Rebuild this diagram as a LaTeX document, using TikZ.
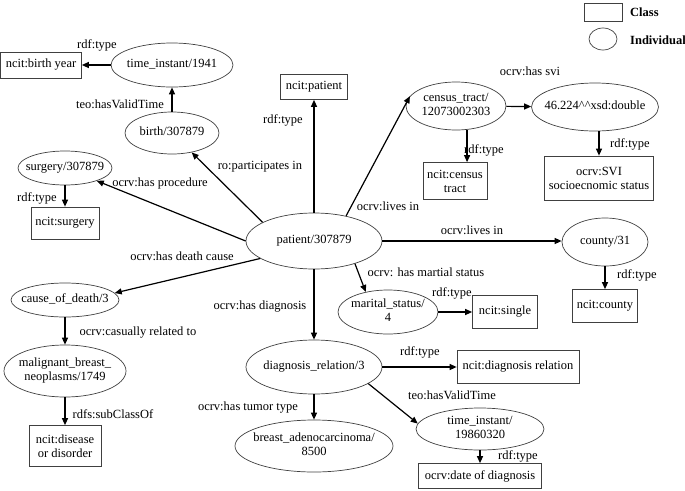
\documentclass[tikz,border=0pt]{standalone}
\usepackage{fontspec}
\setmainfont{Liberation Serif}
\usetikzlibrary{shapes.geometric,arrows.meta}
\newcommand{\zw}[1]{\makebox[0pt]{\begin{tabular}{@{}c@{}}#1\end{tabular}}}
\tikzset{
  ind/.style={ellipse, draw=black!75, line width=0.7pt, inner sep=0pt},
  cls/.style={rectangle, draw=black!75, line width=0.7pt, inner sep=0pt, align=center},
  lbl/.style={inner sep=0pt},
  arr/.style={-{Triangle[length=7pt,width=6pt]}, line width=1.2pt},
}
\begin{document}
\begin{tikzpicture}[x=1pt,y=-1pt,font=\fontsize{12.5}{14}\selectfont]
\useasboundingbox (0,0) rectangle (685,490);
% legend
\node[cls, minimum width=38, minimum height=18] (legc) at (603,12) {};
\node[lbl, anchor=west, font=\fontsize{12.5}{14}\selectfont\bfseries] (legct) at (630,12) {Class};
\node[ind, minimum width=28, minimum height=22] (legi) at (603,39) {};
\node[lbl, anchor=west, font=\fontsize{12.5}{14}\selectfont\bfseries] (legit) at (630,40) {Individual};
% nodes
\node[ind, minimum width=122, minimum height=44] (ti1941) at (172,65) {\zw{time\_instant/1941}};
\node[cls, minimum width=81, minimum height=26] (byear) at (41,65) {ncit:birth year};
\node[ind, minimum width=94, minimum height=42] (birth) at (172,133) {\zw{birth/307879}};
\node[cls, minimum width=67, minimum height=25] (npat) at (314,87) {ncit:patient};
\node[ind, minimum width=94, minimum height=34] (surg) at (65,168) {\zw{surgery/307879}};
\node[cls, minimum width=68, minimum height=32] (nsurg) at (65,223) {ncit:surgery};
\node[ind, minimum width=136, minimum height=56] (patient) at (314,241) {\zw{patient/307879}};
\node[ind, minimum width=100, minimum height=48] (census) at (456,106) {\zw{census\_tract/\\12073002303}};
\node[ind, minimum width=127, minimum height=48] (svi) at (595,107) {\zw{46.224\textasciicircum\textasciicircum xsd:double}};
\node[cls, minimum width=64, minimum height=37] (ncensus) at (455,181) {ncit:census\\tract};
\node[cls, minimum width=109, minimum height=44] (sviclass) at (599,178) {ocrv:SVI\\socioecnomic status};
\node[ind, minimum width=86, minimum height=48] (county) at (605,242) {\zw{county/31}};
\node[cls, minimum width=65, minimum height=33] (ncounty) at (605,306) {ncit:county};
\node[ind, minimum width=100, minimum height=44] (marital) at (388,312) {\zw{marital\_status/\\4}};
\node[cls, minimum width=65, minimum height=33] (single) at (505,312) {ncit:single};
\node[ind, minimum width=108, minimum height=34] (cause) at (65,300) {\zw{cause\_of\_death/3}};
\node[ind, minimum width=122, minimum height=52] (malig) at (65,371) {\zw{malignant\_breast\_\\neoplasms/1749}};
\node[cls, minimum width=72, minimum height=41] (disease) at (65,446) {ncit:disease\\or disorder};
\node[ind, minimum width=136, minimum height=54] (diag) at (314,367) {\zw{diagnosis\_relation/3}};
\node[cls, minimum width=122, minimum height=33] (ndiag) at (518,367) {ncit:diagnosis relation};
\node[ind, minimum width=128, minimum height=42] (ti1986) at (480,429) {\zw{time\_instant/\\19860320}};
\node[cls, minimum width=123, minimum height=25] (date) at (480,476) {ocrv:date of diagnosis};
\node[ind, minimum width=158, minimum height=52] (breast) at (314,446) {\zw{breast\_adenocarcinoma/\\8500}};
% labels
\node[lbl] (l1) at (97,45) {rdf:type};
\node[lbl] (l2) at (120,104) {teo:hasValidTime};
\node[lbl] (l3) at (283,120) {rdf:type};
\node[lbl] (l4) at (37,198) {rdf:type};
\node[lbl] (l5) at (160,183) {ocrv:has procedure};
\node[lbl] (l6) at (260,167) {ro:participates in};
\node[lbl] (l7) at (530,71) {ocrv:has svi};
\node[lbl] (l8) at (484,150) {rdf:type};
\node[lbl] (l9) at (630,144) {rdf:type};
\node[lbl] (l10) at (388,206) {ocrv:lives in};
\node[lbl] (l11) at (472,230) {ocrv:lives in};
\node[lbl] (l12) at (637,275) {rdf:type};
\node[lbl] (l13) at (426,272) {ocrv: has martial status};
\node[lbl] (l14) at (452,293) {rdf:type};
\node[lbl] (l15) at (182,256) {ocrv:has death cause};
\node[lbl] (l16) at (138,333) {ocrv:casually related to};
\node[lbl] (l17) at (113,414) {rdfs:subClassOf};
\node[lbl] (l18) at (260,307) {ocrv:has diagnosis};
\node[lbl] (l19) at (420,352) {rdf:type};
\node[lbl] (l20) at (452,395) {teo:hasValidTime};
\node[lbl] (l21) at (518,456) {rdf:type};
\node[lbl] (l22) at (248,408) {ocrv:has tumor type};
% edges
\draw[arr] (ti1941) -- (byear);
\draw[arr] (birth) -- (ti1941);
\draw[arr] (patient.160) -- (birth);
\draw[arr] (patient.north) -- (npat);
\draw[arr] (patient.west) -- (surg);
\draw[arr] (surg) -- (nsurg);
\draw[arr] (patient.38) -- (census.168);
\draw[arr] (census) -- (svi);
\draw[arr] (census.-65) -- (census.-65 |- ncensus.north);
\draw[arr] (svi.south -| sviclass.north) -- (sviclass.north);
\draw[arr] (patient.east) -- (patient.east -| county.west);
\draw[arr] (county) -- (ncounty);
\draw[arr] (patient.-29) -- (marital.138);
\draw[arr] (marital) -- (single);
\draw[arr] (patient.198) -- (cause.8);
\draw[arr] (cause) -- (malig);
\draw[arr] (malig) -- (disease);
\draw[arr] (patient) -- (diag);
\draw[arr] (diag) -- (ndiag);
\draw[arr] (diag.-17) -- (ti1986.175);
\draw[arr] (ti1986) -- (date);
\draw[arr] (diag) -- (breast);
\end{tikzpicture}
\end{document}
